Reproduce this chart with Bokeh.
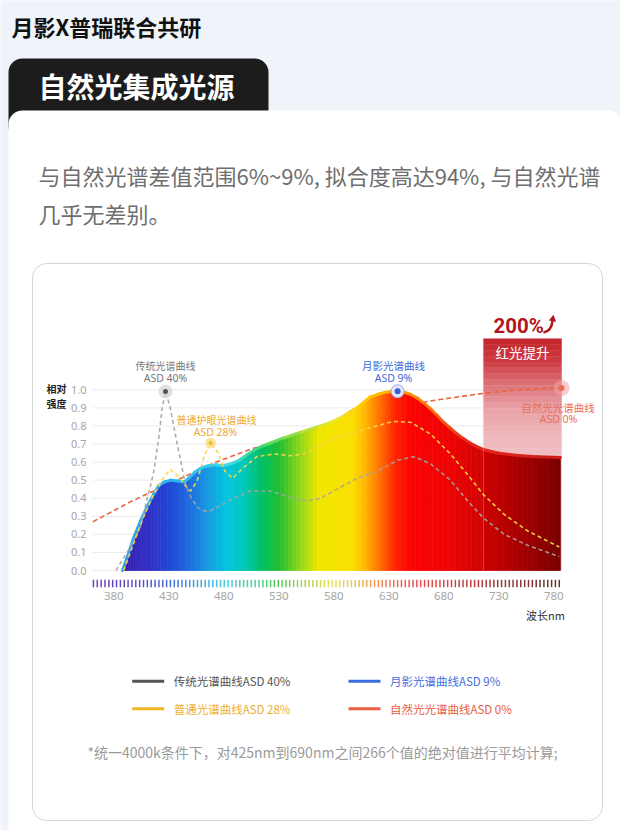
from bokeh.plotting import figure
from bokeh.models import Range1d, LinearAxis, FixedTicker, PrintfTickFormatter
from bokeh.core.properties import value
from bokeh.embed import file_html
from bokeh.resources import INLINE

# ---------------- data ----------------
header_title = "月影X普瑞联合共研"
section_title = "自然光集成光源"
subtitle_lines = ["与自然光谱差值范围6%~9%, 拟合度高达94%, 与自然光谱", "几乎无差别。"]
footnote = "*统一4000k条件下，对425nm到690nm之间266个值的绝对值进行平均计算;"

wavelength_ticks = [380, 430, 480, 530, 580, 630, 680, 730, 780]
intensity_ticks = [0.0, 0.1, 0.2, 0.3, 0.4, 0.5, 0.6, 0.7, 0.8, 0.9, 1.0]

# 月影光谱曲线 (filled spectrum)
moon_wl = [388, 392, 398, 404, 410, 416, 421, 426, 432, 438, 444, 448, 454, 460, 466,
           473, 479, 486, 494, 501, 510, 520, 535, 550, 565, 577, 589, 595, 601, 607,
           613, 620, 626, 632, 638, 644, 650, 656, 662, 668, 674, 680, 686, 692, 698,
           704, 710, 716, 729, 747, 765, 786]
moon_val = [0.0, 0.07, 0.18, 0.27, 0.35, 0.42, 0.47, 0.49, 0.50, 0.495, 0.49, 0.51, 0.545, 0.57, 0.58,
            0.585, 0.58, 0.59, 0.61, 0.64, 0.675, 0.70, 0.735, 0.765, 0.795, 0.82, 0.855, 0.88, 0.90, 0.93,
            0.96, 0.975, 0.985, 0.99, 0.992, 0.987, 0.974, 0.954, 0.926, 0.895, 0.858, 0.82, 0.788, 0.756, 0.729,
            0.705, 0.686, 0.67, 0.65, 0.636, 0.629, 0.625]

# 传统光谱曲线
trad_wl = [382, 395, 404, 410, 416, 421, 424, 427, 431, 437, 442, 445, 450, 456, 462, 468, 486,
           504, 522, 541, 556, 568, 580, 601, 620, 638, 653, 668, 686, 701, 716, 735, 756, 785]
trad_val = [0.0, 0.13, 0.24, 0.39, 0.535, 0.74, 0.90, 0.99, 0.91, 0.72, 0.57, 0.48, 0.405, 0.35, 0.33, 0.33, 0.39,
            0.44, 0.44, 0.405, 0.385, 0.40, 0.44, 0.51, 0.55, 0.61, 0.63, 0.59, 0.50, 0.39, 0.29, 0.20, 0.14, 0.077]

# 普通护眼光谱曲线
eye_wl = [389, 398, 407, 416, 424, 431, 439, 445, 450, 456, 462, 468, 475, 481, 488, 498, 510,
          526, 541, 553, 565, 583, 595, 613, 634, 650, 668, 686, 701, 716, 735, 756, 785]
eye_val = [0.0, 0.15, 0.295, 0.42, 0.50, 0.56, 0.52, 0.47, 0.44, 0.50, 0.63, 0.705, 0.65, 0.55, 0.51, 0.57, 0.63,
           0.645, 0.635, 0.645, 0.68, 0.74, 0.755, 0.79, 0.825, 0.82, 0.755, 0.645, 0.535, 0.42, 0.31, 0.22, 0.13]

# 自然光光谱曲线
nat_wl = [361, 395, 441, 473, 504, 541, 577, 623, 665, 686, 716, 747, 787]
nat_val = [0.27, 0.38, 0.51, 0.60, 0.67, 0.74, 0.80, 0.88, 0.935, 0.955, 0.98, 1.0, 1.01]

series_names = ["传统光谱曲线", "普通护眼光谱曲线", "月影光谱曲线", "自然光光谱曲线"]
series_asd = ["ASD 40%", "ASD 28%", "ASD 9%", "ASD 0%"]
legend_labels = ["传统光谱曲线ASD 40%", "月影光谱曲线ASD 9%", "普通光谱曲线ASD 28%", "自然光光谱曲线ASD 0%"]
red_range = [716, 787]
red_gain = "200%"
red_label = "红光提升"

# ---------------- layout helpers (screen px of the 620x830 page -> data) ----------------
W, H = 620, 830
X380, KX = 113.3, 1.1
Y0, KY = 570.0, 180.7


def dx(X):
    return 380 + (X - X380) / KX


def dy(Y):
    return (Y0 - Y) / KY


def h2r(h):
    return tuple(int(h[i:i + 2], 16) for i in (1, 3, 5))


def stop_color(stops, w):
    if w <= stops[0][0]:
        return stops[0][1]
    if w >= stops[-1][0]:
        return stops[-1][1]
    for (w0, c0), (w1, c1) in zip(stops[:-1], stops[1:]):
        if w0 <= w <= w1:
            t = (w - w0) / (w1 - w0)
            a, b = h2r(c0), h2r(c1)
            return "#%02x%02x%02x" % tuple(round(a[i] + (b[i] - a[i]) * t) for i in range(3))


AREA_STOPS = [(389, "#3a1fae"), (413, "#2e2ec8"), (436, "#1e4ed8"), (454, "#1a78e0"), (468, "#12a0e2"),
              (484, "#00c6df"), (500, "#00c8b4"), (515, "#00bf62"), (531, "#22c032"), (550, "#92d81a"),
              (566, "#f0e600"), (597, "#fae000"), (610, "#ffb000"), (622, "#ff7000"), (636, "#ff2400"),
              (650, "#fc0000"), (686, "#ee0000"), (713, "#d20000"), (750, "#a60000"), (786, "#780000")]
EDGE_STOPS = [(388, "#2f9ff0"), (440, "#28b4f0"), (485, "#40dce8"), (515, "#40d870"), (550, "#a8e040"),
              (580, "#f0e830"), (610, "#ffc800"), (640, "#ffa000"), (670, "#ff7010"), (700, "#e82a20"),
              (786, "#cc1a1a")]
TICK_STOPS = [(362, "#6c2aa0"), (380, "#5a34b0"), (413, "#4048c8"), (441, "#3070d8"), (463, "#30a8e0"),
              (482, "#38c8d8"), (504, "#40c8a0"), (527, "#40c050"), (554, "#a0d040"), (577, "#e0e040"),
              (600, "#f0c040"), (622, "#f08040"), (650, "#e84040"), (686, "#d03030"), (722, "#a02020"),
              (759, "#702020"), (787, "#4a1c1c")]

p = figure(width=W, height=H, x_range=Range1d(dx(0), dx(W)), y_range=Range1d(dy(H), dy(0)),
           min_border=0, toolbar_location=None, output_backend="svg",
           x_axis_location=None, y_axis_location=None)
p.xgrid.visible = False
p.ygrid.visible = False
p.outline_line_color = None
p.background_fill_color = "#eff4fb"
p.border_fill_color = "#eff4fb"

CJK = "Noto Sans CJK SC"


def txt(X, Y, s, size, color, align="left", bold=False, font=CJK):
    p.text(x=[dx(X)], y=[dy(Y)], text=[s], text_font=value(font), text_font_size=value(f"{size}px"),
           text_color=color, text_align=align, text_baseline="middle",
           text_font_style="bold" if bold else "normal")


# ---------------- page decoration ----------------
txt(11, 25.5, header_title, 22, "#111111", bold=True)
p.quad(left=[dx(8)], right=[dx(268)], top=[dy(58)], bottom=[dy(140)], fill_color="#1c1c1c",
       line_color=None, border_radius=14)
txt(38, 85, section_title, 28, "#ffffff", bold=True)
p.quad(left=[dx(8)], right=[dx(621)], top=[dy(110)], bottom=[dy(900)], fill_color="#ffffff",
       line_color=None, border_radius=14)
txt(38, 174, subtitle_lines[0], 22, "#6e6e6e")
txt(38, 212, subtitle_lines[1], 22, "#6e6e6e")
p.quad(left=[dx(32)], right=[dx(602)], top=[dy(263)], bottom=[dy(820)], fill_color="#ffffff",
       line_color="#d6d6d6", line_width=1, border_radius=14)

# ---------------- chart ----------------
# grid lines
p.segment(x0=[dx(92)] * len(intensity_ticks), y0=intensity_ticks,
          x1=[dx(561)] * len(intensity_ticks), y1=intensity_ticks, line_color="#ececec", line_width=1)

# red-light highlight box (gradient)
box_top = dy(338.3)
NB = 40
bx_t, bx_b, bx_c = [], [], []
for k in range(NB):
    t0 = k / NB
    t1 = (k + 1) / NB
    frac = (t0 + t1) / 2
    col = stop_color([(0.0, "#c4232a"), (0.1, "#cd3c43"), (0.2, "#dc7379"), (0.3, "#e9a2a7"),
                      (0.45, "#f0bcc0"), (1.0, "#f4cdd0")], frac)
    bx_t.append(box_top * (1 - t0))
    bx_b.append(box_top * (1 - t1))
    bx_c.append(col)
p.quad(left=[red_range[0]] * NB, right=[red_range[1]] * NB, top=bx_t, bottom=bx_b,
       fill_color=bx_c, line_color=bx_c, line_width=0.5)

# natural light curve (behind the filled spectrum)
p.line(nat_wl, nat_val, line_color="#e8633f", line_width=1.6, line_dash="5 3")

# filled spectrum with horizontal colour gradient
xs, ys, cs = [], [], []
NSUB = 4
for i in range(len(moon_wl) - 1):
    x0, x1 = moon_wl[i], moon_wl[i + 1]
    y0, y1 = moon_val[i], moon_val[i + 1]
    for k in range(NSUB):
        ta, tb = k / NSUB, (k + 1) / NSUB
        xa, xb = x0 + (x1 - x0) * ta, x0 + (x1 - x0) * tb
        ya, yb = y0 + (y1 - y0) * ta, y0 + (y1 - y0) * tb
        xs.append([xa, xb, xb, xa])
        ys.append([0, 0, yb, ya])
        cs.append(stop_color(AREA_STOPS, (xa + xb) / 2))
p.patches(xs, ys, fill_color=cs, line_color=cs, line_width=0.7)

edge_cols = [stop_color(EDGE_STOPS, (moon_wl[i] + moon_wl[i + 1]) / 2) for i in range(len(moon_wl) - 1)]
p.segment(x0=moon_wl[:-1], y0=moon_val[:-1], x1=moon_wl[1:], y1=moon_val[1:],
          line_color=edge_cols, line_width=3, line_cap="round")

# box edge visible over spectrum
p.segment(x0=[red_range[0]], y0=[0], x1=[red_range[0]], y1=[box_top], line_color="#ffffff",
          line_alpha=0.25, line_width=1)

# dashed comparison curves
p.line(trad_wl, trad_val, line_color="#a4a4a4", line_width=1.6, line_dash="4 3", line_alpha=0.9)
p.line(eye_wl, eye_val, line_color="#f8d548", line_width=1.6, line_dash="4 3", line_alpha=0.95)

# peak markers
it = trad_val.index(max(trad_val))
p.scatter([trad_wl[it]], [trad_val[it]], size=14, fill_color="#d9d9d9", fill_alpha=0.8, line_color=None)
p.scatter([trad_wl[it]], [trad_val[it]], size=5, fill_color="#555555", line_color=None)
ie = eye_val.index(max(eye_val[:15]))
p.scatter([eye_wl[ie]], [eye_val[ie]], size=11, fill_color="#f9e08a", fill_alpha=0.8, line_color=None)
p.scatter([eye_wl[ie]], [eye_val[ie]], size=4.5, fill_color="#f2c230", line_color=None)
im = moon_val.index(max(moon_val))
p.scatter([moon_wl[im]], [moon_val[im]], size=13, fill_color="#e2e8fb", line_color="#9aaeea", line_width=1)
p.scatter([moon_wl[im]], [moon_val[im]], size=6, fill_color="#3a5fd6", line_color=None)
p.scatter([nat_wl[-1]], [nat_val[-1]], size=16, fill_color="#f4a0a0", fill_alpha=0.55, line_color=None)
p.scatter([nat_wl[-1]], [nat_val[-1]], size=6, fill_color="#ee6a5a", line_color=None)

# colourful wavelength tick marks
tick_w = []
w = 361.5
while w <= 787.5:
    tick_w.append(w)
    w += 3.5
tick_c = [stop_color(TICK_STOPS, t) for t in tick_w]
p.segment(x0=tick_w, y0=[dy(579.3)] * len(tick_w), x1=tick_w, y1=[dy(586.7)] * len(tick_w),
          line_color=tick_c, line_width=1.5, line_alpha=0.9)

# axes (real Bokeh axes, fixed inside the canvas)
yaxis = LinearAxis(fixed_location=dx(92), ticker=FixedTicker(ticks=intensity_ticks),
                   formatter=PrintfTickFormatter(format="%.1f"))
yaxis.axis_line_color = None
yaxis.major_tick_line_color = None
yaxis.minor_tick_line_color = None
yaxis.major_tick_out = 0
yaxis.major_tick_in = 0
yaxis.major_label_standoff = 6
yaxis.major_label_text_color = "#a6a6a6"
yaxis.major_label_text_font = "Noto Sans"
yaxis.major_label_text_font_size = "11px"
p.add_layout(yaxis, "left")

xaxis = LinearAxis(fixed_location=dy(588.5), ticker=FixedTicker(ticks=wavelength_ticks))
xaxis.axis_line_color = None
xaxis.major_tick_line_color = None
xaxis.minor_tick_line_color = None
xaxis.major_tick_out = 0
xaxis.major_tick_in = 0
xaxis.major_label_standoff = 3
xaxis.major_label_text_color = "#a6a6a6"
xaxis.major_label_text_font = "Noto Sans"
xaxis.major_label_text_font_size = "11.5px"
p.add_layout(xaxis, "below")

txt(56, 388, "相对", 10, "#222222", align="center", bold=True)
txt(56, 403, "强度", 10, "#222222", align="center", bold=True)
txt(545, 614, "波长nm", 11, "#333333", align="center")

# series labels
txt(165, 365, series_names[0], 10, "#777777", align="center")
txt(165, 377.5, series_asd[0], 10.5, "#777777", align="center", font="Noto Sans")
txt(216, 419, series_names[1], 10, "#f0a830", align="center")
txt(215, 431, series_asd[1], 10.5, "#f0a830", align="center", font="Noto Sans")
txt(393, 365, series_names[2], 10.5, "#3d6ad6", align="center")
txt(393, 377.5, series_asd[2], 10.5, "#3d6ad6", align="center", font="Noto Sans")
txt(557.5, 407, series_names[3], 10.5, "#e8705a", align="center")
txt(558, 418.5, series_asd[3], 10.5, "#e8705a", align="center", font="Noto Sans")

# red light gain
txt(493, 325, red_gain, 20.5, "#b3141b", bold=True, font="Roboto")
p.bezier(x0=[dx(543)], y0=[dy(332)], x1=[dx(552)], y1=[dy(320)], cx0=[dx(549)], cy0=[dy(331)],
         cx1=[dx(551.5)], cy1=[dy(326)], line_color="#b3141b", line_width=2.6)
p.scatter([dx(552.3)], [dy(318.5)], marker="triangle", size=7.5, angle=-0.15,
          fill_color="#b3141b", line_color=None)
txt(522, 351, red_label, 13.5, "#ffffff", align="center")

# legend
leg_X = [131.7, 348, 131.7, 348]
leg_Y = [680.7, 680.7, 708.3, 708.3]
leg_line = ["#555555", "#3b6fe0", "#f2b323", "#ea6040"]
leg_text = ["#555555", "#3f6fdc", "#eeb030", "#e6603e"]
p.segment(x0=[dx(X) for X in leg_X], y0=[dy(Y) for Y in leg_Y],
          x1=[dx(X + 32) for X in leg_X], y1=[dy(Y) for Y in leg_Y], line_color=leg_line, line_width=3)
for X, Y, s, c in zip(leg_X, leg_Y, legend_labels, leg_text):
    txt(X + 41.5, Y, s, 11.5, c)

txt(322, 751, footnote, 14, "#9a9a9a", align="center")

open("out.html", "w").write(file_html(p, INLINE))
